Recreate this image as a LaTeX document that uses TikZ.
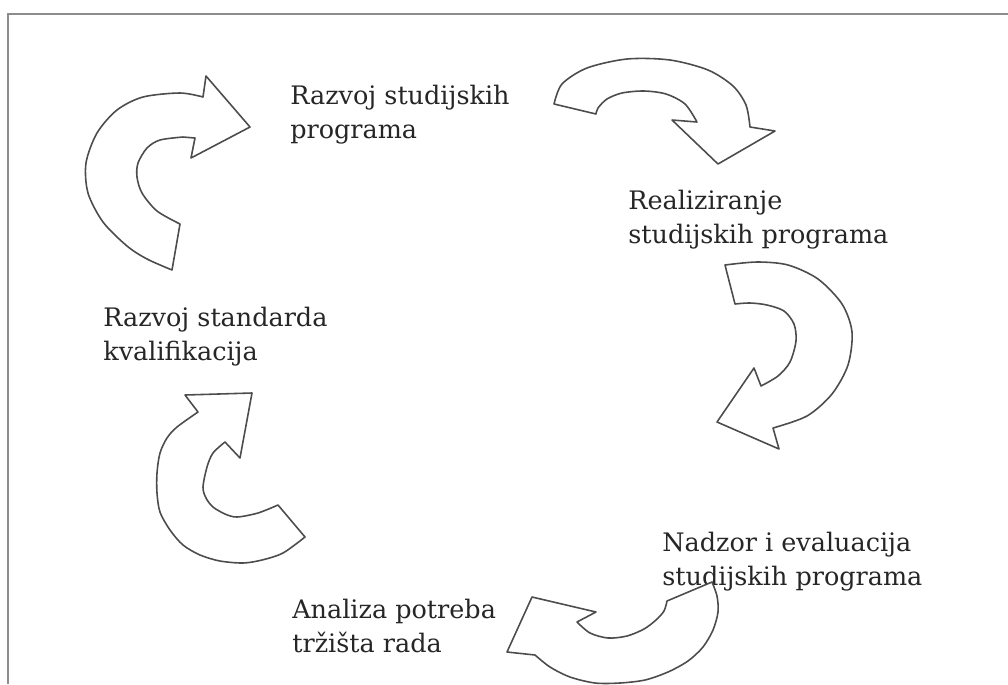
\documentclass[tikz,border=0pt]{standalone}
\usepackage{fontspec}
\setmainfont{DejaVu Serif}
\tikzset{>=latex}
\tikzset{
  curvarrow/.style={draw=black!70, line width=0.9pt, fill=white, line join=round},
  % placed at the baseline of the last line
  steplabel/.style={anchor=base west, align=left, inner sep=0pt, text=black!85,
    font=\fontsize{14.5}{19.3}\selectfont},
}

\begin{document}
\begin{tikzpicture}[x=0.02cm, y=-0.02cm]
    \useasboundingbox (0,0) rectangle (1008,684);
    % frame, only top and left edge visible
    \draw[black!45, line width=1.6pt] (8,684) -- (8,14) -- (1008,14);
    % steps of the cycle
    \node[steplabel] (razvoj) at (290,138) {Razvoj studijskih\\programa};
    \node[steplabel] (realiz) at (628,243) {Realiziranje\\studijskih programa};
    \node[steplabel] (nadzor) at (662,585) {Nadzor i evaluacija\\studijskih programa};
    \node[steplabel] (analiza) at (292,652) {Analiza potreba\\tržišta rada};
    \node[steplabel] (standard) at (103,360) {Razvoj standarda\\kvalifikacija};
    % curved block arrows
    \draw[curvarrow] plot[smooth] coordinates {(172,270) (147,259) (127,246) (103,222)
        (88,193) (86,163) (97,133) (117,110) (143,97) (180,93) (203,97)}
        -- (206,76) -- (250,127) -- (191,158) -- (195,138)
        -- plot[smooth] coordinates {(183,137) (160,140) (147,148) (138,163)
        (137,177) (142,193) (157,211) (180,224)} -- cycle;
    \draw[curvarrow] plot[smooth] coordinates {(554,104) (562,84) (587,68) (627,59)
        (670,60) (708,70) (733,86) (746,105) (750,127)}
        -- (775,131) -- (718,164) -- (672,120) -- (697,122)
        -- plot[smooth] coordinates {(697,122) (685,104) (666,94) (644,91) (622,93)
        (607,99) (598,108) (596,114)} -- cycle;
    \draw[curvarrow] plot[smooth] coordinates {(725,265) (757,262) (788,265) (818,279)
        (842,304) (852,332) (848,365) (832,394) (807,416) (773,428)}
        -- (779,449) -- (717,422) -- (754,368) -- (761,386)
        -- plot[smooth] coordinates {(761,386) (778,376) (790,362) (796,341) (794,324)
        (784,311) (767,305) (750,303) (735,304)} -- cycle;
    \draw[curvarrow] plot[smooth] coordinates {(712,582) (717,596) (718,612) (713,630)
        (703,647) (688,661) (668,672) (645,680) (620,683) (595,683) (570,677)
        (550,667) (535,655)}
        -- (507,652) -- (532,597) -- (596,612) -- (577,622)
        -- plot[smooth] coordinates {(577,622) (590,633) (608,638) (627,636) (644,629)
        (656,620) (664,611) (667,601)} -- cycle;
    \draw[curvarrow] plot[smooth] coordinates {(305,537) (283,553) (262,560) (243,563)
        (220,561) (200,555) (183,545) (170,530) (160,512) (157,493) (157,473)
        (160,453) (167,438) (177,427) (198,412)}
        -- (185,395) -- (252,393) -- (240,458) -- (225,442)
        -- plot[smooth] coordinates {(225,442) (213,453) (207,467) (203,487) (206,498)
        (213,507) (225,514) (237,517) (258,513) (278,505)} -- cycle;
\end{tikzpicture}
\end{document}
